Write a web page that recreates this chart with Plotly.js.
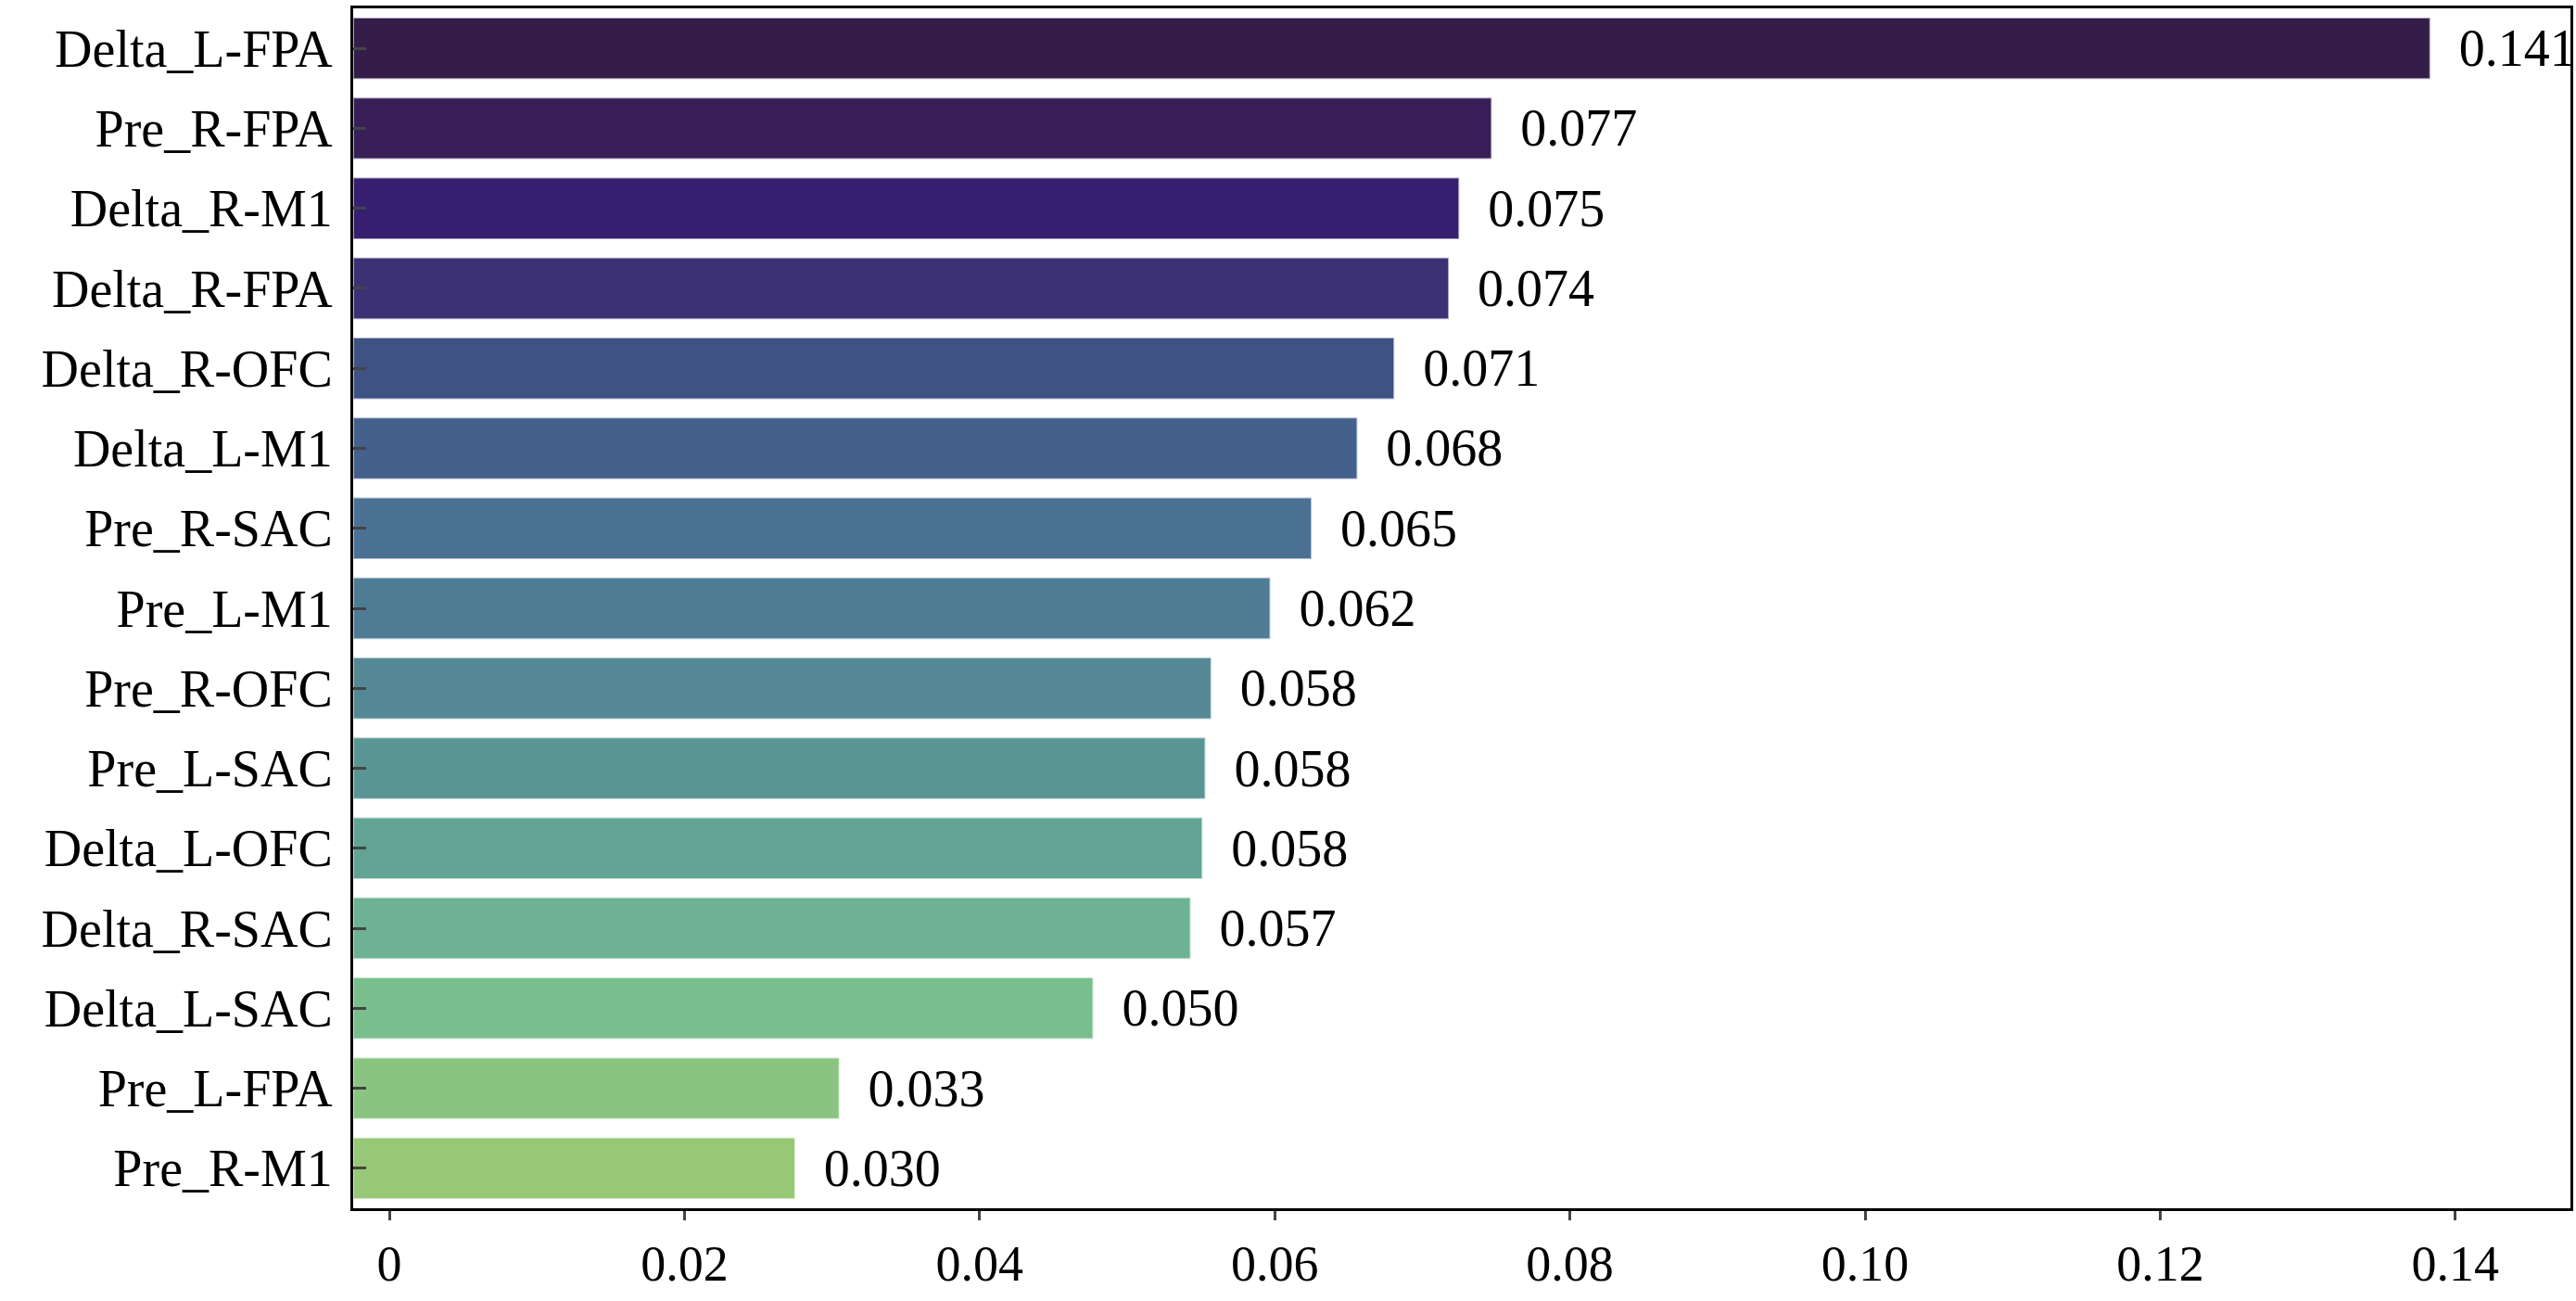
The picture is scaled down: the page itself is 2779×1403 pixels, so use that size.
<!DOCTYPE html>
<html>
<head>
<meta charset="utf-8">
<script src="https://cdn.plot.ly/plotly-3.0.1.min.js"></script>
<style>html,body{margin:0;padding:0;background:#fff}#chart{width:2779px;height:1403px}</style>
</head>
<body>
<div id="chart"></div>
<script>
// features, top to bottom
const features = ['Delta_L-FPA', 'Pre_R-FPA', 'Delta_R-M1', 'Delta_R-FPA', 'Delta_R-OFC',
  'Delta_L-M1', 'Pre_R-SAC', 'Pre_L-M1', 'Pre_R-OFC', 'Pre_L-SAC', 'Delta_L-OFC',
  'Delta_R-SAC', 'Delta_L-SAC', 'Pre_L-FPA', 'Pre_R-M1'];
const importance = [0.1383, 0.0747, 0.0725, 0.0718, 0.0681, 0.0656, 0.0625, 0.0597,
  0.0557, 0.0553, 0.0551, 0.0543, 0.0477, 0.0305, 0.0275];
const valueLabels = ['0.141', '0.077', '0.075', '0.074', '0.071', '0.068', '0.065', '0.062',
  '0.058', '0.058', '0.058', '0.057', '0.050', '0.033', '0.030'];
const barColors = ['#2b1140', '#2e1450', '#2c1468', '#33276e', '#344a7e', '#3b5886', '#426a8e',
  '#467690', '#4b828f', '#51908e', '#5aa08e', '#66ae8e', '#72bc87', '#83c27b', '#92c66e'];
const tickVals = [0, 0.02, 0.04, 0.06, 0.08, 0.10, 0.12, 0.14];
const tickText = ['0', '0.02', '0.04', '0.06', '0.08', '0.10', '0.12', '0.14'];

const XMIN = -0.00245, XMAX = 0.1478;
const font = 'Liberation Serif, Times New Roman, serif';

const trace = {
  type: 'bar',
  orientation: 'h',
  y: features,
  x: importance.map(v => v - XMIN),
  base: XMIN,
  text: valueLabels,
  texttemplate: '  %{text}',
  textposition: 'outside',
  cliponaxis: false,
  textfont: { family: font, size: 56, color: '#000' },
  marker: { color: barColors, opacity: 0.95, line: { color: 'rgba(255,255,255,0.6)', width: 2 } },
  hoverinfo: 'skip'
};

Plotly.newPlot('chart', [trace], {
  width: 2779, height: 1403,
  margin: { l: 381, r: 6, t: 9, b: 100 },
  paper_bgcolor: '#fff', plot_bgcolor: '#fff',
  font: { family: font, size: 56, color: '#000' },
  bargap: 0.23,
  showlegend: false,
  xaxis: {
    range: [XMIN, XMAX], tickvals: tickVals, ticktext: tickText,
    ticks: 'outside', ticklen: 10, tickwidth: 3, showgrid: false, zeroline: false,
    showline: true, linewidth: 3, linecolor: '#000', mirror: true,
    tickfont: { family: font, size: 54 }
  },
  yaxis: {
    autorange: 'reversed', ticks: 'inside', ticklen: 14, tickwidth: 3,
    showline: true, linewidth: 3, linecolor: '#000', mirror: true,
    showgrid: false, tickfont: { family: font, size: 56 }, ticklabelstandoff: 8
  }
}, { displayModeBar: false, staticPlot: true });
</script>
</body>
</html>
